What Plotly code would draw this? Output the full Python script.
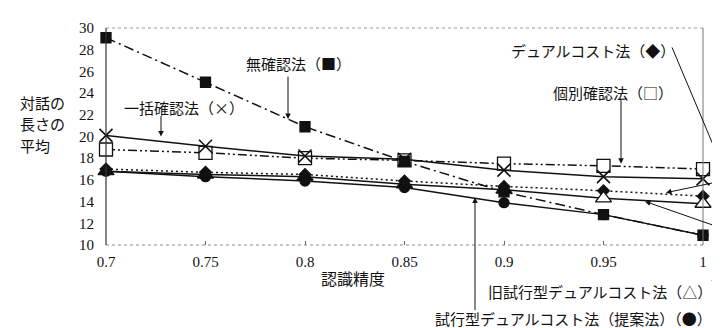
import plotly.graph_objects as go

accuracy = [0.7, 0.75, 0.8, 0.85, 0.9, 0.95, 1.0]
no_confirm = [29.1, 25.0, 20.9, 17.7, 14.9, 12.8, 10.9]        # 無確認法 ■
batch_confirm = [20.1, 19.1, 18.2, 17.9, 16.9, 16.3, 16.1]     # 一括確認法 ×
indiv_confirm = [18.8, 18.5, 18.0, 17.8, 17.5, 17.3, 17.0]     # 個別確認法 □
dual_cost = [17.0, 16.7, 16.5, 15.9, 15.4, 15.0, 14.5]         # デュアルコスト法 ◆
old_trial_dual = [16.8, 16.5, 16.3, 15.6, 15.1, 14.3, 13.8]    # 旧試行型デュアルコスト法 △
trial_dual = [16.8, 16.3, 15.9, 15.3, 13.9, 12.8, 10.9]        # 試行型デュアルコスト法(提案法) ●

y_ticks = list(range(10, 31, 2))
x_ticks = [0.7, 0.75, 0.8, 0.85, 0.9, 0.95, 1.0]
x_tick_text = ["0.7", "0.75", "0.8", "0.85", "0.9", "0.95", "1"]

SERIF = "Liberation Serif, serif"
JP = "Noto Sans CJK JP"
BLACK = "#111111"

fig = go.Figure()

def add(y, symbol, dash, size, fill=BLACK, lw=1.5, mlw=1.3):
    fig.add_trace(go.Scatter(
        x=accuracy, y=y, mode="lines+markers", cliponaxis=False,
        line=dict(color=BLACK, width=lw, dash=dash),
        marker=dict(symbol=symbol, size=size, color=fill,
                    line=dict(color=BLACK, width=mlw)),
        showlegend=False))

add(indiv_confirm, "square", "9px,3px,2px,3px,2px,3px", 13, fill="white")
add(batch_confirm, "x-thin", "solid", 13, mlw=1.6)
add(no_confirm, "square", "10px,4px,2px,4px", 10)
add(trial_dual, "circle", "solid", 10)
add(dual_cost, "diamond", "2px,3px", 9)
# overlapping markers look solid black at low accuracy in the scan
add(old_trial_dual, "triangle-up", "solid", 14,
    fill=[BLACK] * 5 + ["white"] * 2)

# plot area pixel geometry
L, R, T, B = 98, 695, 13, 237
W, H = R - L, B - T
def px(xp):
    return (xp - L) / W
def py(yp):
    return (B - yp) / H
def dx(xp):
    return 0.7 + (xp - L) / W * 0.3
def dy(yp):
    return 10 + (B - yp) / H * 20

shapes = [
    dict(type="line", xref="paper", yref="paper", x0=0, x1=1, y0=1, y1=1,
         line=dict(color="#9a9a9a", width=1, dash="dot")),
    dict(type="line", xref="paper", yref="paper", x0=0, x1=1, y0=0, y1=0,
         line=dict(color="#8a8a8a", width=1, dash="dot")),
    dict(type="line", xref="paper", yref="paper", x0=1, x1=1, y0=0, y1=1,
         line=dict(color="#777777", width=1)),
    dict(type="line", xref="paper", yref="paper", x0=0, x1=0, y0=0, y1=1,
         line=dict(color="#333333", width=1.2)),
    # leader lines going off the right edge
    dict(type="line", xref="paper", yref="paper", x0=px(664), y0=py(33),
         x1=px(724), y1=py(180), line=dict(color=BLACK, width=1)),
    dict(type="line", xref="paper", yref="paper", x0=px(704), y0=py(274),
         x1=px(724), y1=py(222), line=dict(color=BLACK, width=1)),
]

ann = []
def text(t, xc, yc, size=15, font=JP, xanchor="center"):
    ann.append(dict(text=t, xref="paper", yref="paper", x=px(xc), y=py(yc),
                    xanchor=xanchor, yanchor="middle", showarrow=False,
                    borderpad=0,
                    font=dict(family=font, size=size, color=BLACK)))
def arrow(x_head, y_head, x_tail, y_tail):
    ann.append(dict(text="", x=dx(x_head), y=dy(y_head), xref="x", yref="y",
                    ax=x_tail - x_head, ay=y_tail - y_head, axref="pixel", ayref="pixel",
                    showarrow=True, arrowhead=2, arrowsize=1.1, arrowwidth=1,
                    arrowcolor=BLACK, standoff=0, startstandoff=0))

text("無確認法（■）", 290, 50)
arrow(280, 107, 280, 63)
text("一括確認法（×）", 176, 95)
arrow(153, 125, 153, 103)
text("個別確認法（□）", 605, 80)
arrow(613, 153, 613, 88)
text("デュアルコスト法（◆）", 585, 36)
arrow(658, 183, 724, 170)
text("旧試行型デュアルコスト法（△）", 592, 285)
arrow(637, 192, 724, 221)
text("試行型デュアルコスト法（提案法）（●）", 565, 313)
arrow(467, 188, 467, 302)
text("対話の", 11, 90, size=15, xanchor="left")
text("長さの", 11, 112, size=15, xanchor="left")
text("平均", 11, 134, size=15, xanchor="left")
text("認識精度", 345, 271, size=16)

fig.update_layout(
    width=720, height=328,
    margin=dict(l=L, r=720 - R, t=T, b=328 - B),
    paper_bgcolor="white", plot_bgcolor="white",
    shapes=shapes, annotations=ann,
    font=dict(family=SERIF, size=15, color=BLACK),
    xaxis=dict(range=[0.7, 1.0], tickvals=x_ticks, ticktext=x_tick_text,
               showgrid=False, zeroline=False, showline=False,
               ticks="inside", ticklen=4, tickcolor="#666666",
               ticklabelstandoff=6,
               tickfont=dict(family=SERIF, size=15, color=BLACK)),
    yaxis=dict(range=[10, 30], tickvals=y_ticks, showgrid=False, zeroline=False,
               showline=False, ticks="", ticklabelstandoff=11,
               tickfont=dict(family=SERIF, size=15, color=BLACK)),
)

fig.write_html("out.html")
